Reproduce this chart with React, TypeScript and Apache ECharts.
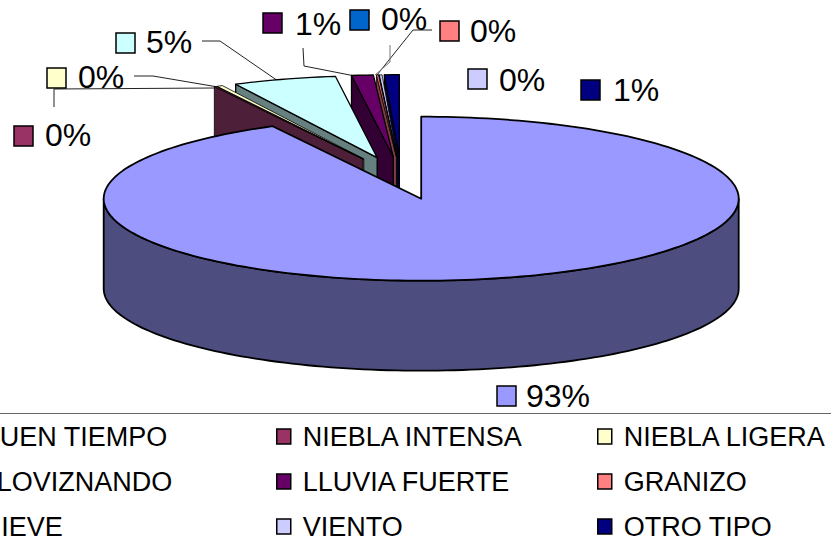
import React, { useEffect, useRef } from "react";
import * as echarts from "echarts";

const categories = ["BUEN TIEMPO", "NIEBLA INTENSA", "NIEBLA LIGERA", "LLOVIZNANDO", "LLUVIA FUERTE", "GRANIZO", "NIEVE", "VIENTO", "OTRO TIPO"];
const values = [92.25, 0.1, 0.3, 5.25, 1.1, 0.1, 0.01, 0.14, 0.75];
const percentLabels = ["93%", "0%", "0%", "5%", "1%", "0%", "0%", "0%", "1%"];
const colors = ["#9999ff", "#993366", "#ffffcc", "#ccffff", "#660066", "#ff8080", "#0066cc", "#ccccff", "#000080"];
const wallColors = ["#4d4d80", "#4d1f38", "#808066", "#668080", "#330033", "#804040", "#003366", "#666680", "#000040"];

// label marker [x, y], text [x, y centre]
const labelBoxes = [[497, 386], [14, 126], [47, 68], [116, 33], [263, 13], [440, 21], [350, 10], [468, 69], [581, 80]];
const labelTexts = [[526, 396], [45, 135], [78, 77], [146, 42], [295, 24], [470, 31], [381, 19], [499, 80], [613, 90]];
const leaders = [
  [[54, 107], [54, 89], [215, 88]],
  [[134, 76], [153, 76], [218, 87]],
  [[202, 41], [220, 41], [278, 81]],
  [[303, 48], [304, 66], [355, 76]],
  [[432, 30], [413, 30], [377, 75]],
  [[390, 45], [390, 62], [375, 75]],
];

const CX = 401.3, CY = 178, RX = 317.5, RY = 82, DEPTH = 90, EXPLODE_X = 0.26, EXPLODE_Y = 0.26;
const total = values.reduce((a, b) => a + b, 0);

function pt(deg: number, cx: number, cy: number, dy = 0) {
  const r = (deg * Math.PI) / 180;
  return [cx + RX * Math.sin(r), cy - RY * Math.cos(r) + dy];
}

function arc(a0: number, a1: number, cx: number, cy: number, dy = 0) {
  const n = Math.max(2, Math.ceil((a1 - a0) / 1.5));
  const out: number[][] = [];
  for (let i = 0; i <= n; i++) out.push(pt(a0 + ((a1 - a0) * i) / n, cx, cy, dy));
  return out;
}

function sliceItem(idx: number) {
  return (_params: any, api: any) => {
    const before = values.slice(0, idx).reduce((a, b) => a + b, 0);
    const v = api.value(0);
    const a0 = (before / total) * 360;
    const a1 = ((before + v) / total) * 360;
    const mid = (((a0 + a1) / 2) * Math.PI) / 180;
    const cx = CX + EXPLODE_X * RX * Math.sin(mid);
    const cy = CY - EXPLODE_Y * RY * Math.cos(mid);
    const apex = [cx, cy];
    const base = { stroke: "#000", lineWidth: idx === 0 ? 1.8 : v < 0.5 ? 0.8 : 1.3, lineJoin: "round" };
    const children: any[] = [];
    const wall = (p: number[]) => ({
      type: "polygon",
      shape: { points: [apex, p, [p[0], p[1] + DEPTH], [apex[0], apex[1] + DEPTH]] },
      style: { ...base, fill: wallColors[idx] },
    });
    if (a1 > 0 && a1 < 180) children.push(wall(pt(a1, cx, cy)));
    if (a0 > 180 && a0 < 360) children.push(wall(pt(a0, cx, cy)));
    const w0 = Math.max(a0, 90), w1 = Math.min(a1, 270);
    if (w1 > w0) {
      children.push({
        type: "polygon",
        shape: { points: [...arc(w0, w1, cx, cy), ...arc(w0, w1, cx, cy, DEPTH).reverse()] },
        style: { ...base, fill: wallColors[idx] },
      });
    }
    children.push({
      type: "polygon",
      shape: { points: [apex, ...arc(a0, a1, cx, cy)] },
      style: { ...base, fill: colors[idx] },
    });
    return { type: "group", children };
  };
}

const FONT = "'Liberation Sans', Arial, sans-serif";

function legendColumn(left: number, names: string[]) {
  return {
    orient: "vertical",
    left,
    top: 423,
    padding: 0,
    itemGap: 18,
    itemWidth: 14,
    itemHeight: 15,
    icon: "rect",
    selectedMode: false,
    data: names,
    itemStyle: { borderColor: "#000", borderWidth: 1.5 },
    textStyle: { fontFamily: FONT, fontSize: 27, color: "#000", lineHeight: 27, padding: [0, 0, 0, 7] },
  };
}

export default function App() {
  const ref = useRef<HTMLDivElement>(null);
  useEffect(() => {
    document.body.style.margin = "0";
    const chart = echarts.init(ref.current!, undefined, { renderer: "svg" });
    const graphics: any[] = [
      { type: "line", shape: { x1: 0, y1: 413.5, x2: 831, y2: 413.5 }, style: { stroke: "#666", lineWidth: 1 } },
    ];
    leaders.forEach((pts, i) => {
      graphics.push({
        type: "polyline",
        shape: { points: pts },
        style: { stroke: i === 5 ? "#777" : "#222", lineWidth: 1, fill: "none" },
      });
    });
    categories.forEach((_, i) => {
      graphics.push({
        type: "rect",
        shape: { x: labelBoxes[i][0], y: labelBoxes[i][1], width: 19, height: 20 },
        style: { fill: colors[i], stroke: "#000", lineWidth: 1.5 },
      });
      graphics.push({
        type: "text",
        x: labelTexts[i][0],
        y: labelTexts[i][1],
        style: { text: percentLabels[i], font: `32px ${FONT}`, fill: "#000", textVerticalAlign: "middle", verticalAlign: "middle" },
      });
    });
    chart.setOption({
      animation: false,
      backgroundColor: "#fff",
      graphic: graphics,
      legend: [
        legendColumn(-45, [categories[0], categories[3], categories[6]]),
        legendColumn(276, [categories[1], categories[4], categories[7]]),
        legendColumn(597, [categories[2], categories[5], categories[8]]),
      ],
      series: categories.map((name, i) => ({
        type: "custom",
        name,
        coordinateSystem: "none",
        silent: true,
        z: i === 0 ? 20 : 20 - i,
        itemStyle: { color: colors[i] },
        renderItem: sliceItem(i),
        data: [[values[i]]],
      })),
    });
    return () => chart.dispose();
  }, []);
  return <div ref={ref} style={{ width: 831, height: 541 }} />;
}
